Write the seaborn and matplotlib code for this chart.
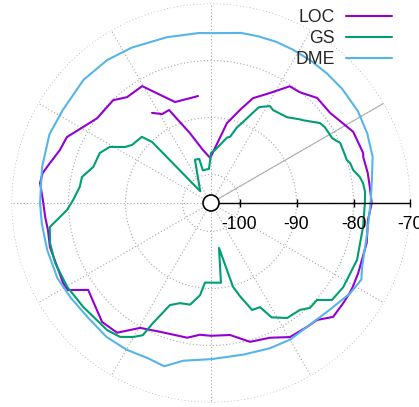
import numpy as np
import pandas as pd
import matplotlib
matplotlib.use("Agg")
import matplotlib.pyplot as plt
from matplotlib.lines import Line2D
from matplotlib.patches import Circle
import seaborn as sns

# Received signal strength (dBm) versus bearing (degrees, CCW from east)
loc_deg = [96.9, 109.6, 120.5, 128.4, 133.6, 143.3, 149.3, 155.4, 160.7, 166.0,
           169.9, 173.3, 179.0, 184.8, 189.4, 195.3, 208.4, 211.3, 215.3, 227.5,
           234.1, 240.4, 248.4, 260.0, 265.2, 270.0, 278.2, 285.7, 293.6, 300.5,
           307.7, 312.2, 317.0, 322.9, 327.1, 329.4, 334.5, 339.3, 345.6, 353.8,
           360.0, 365.7, 370.8, 376.8, 378.2, 386.6, 397.1, 404.7, 411.3, 416.0,
           421.8, 428.2, 432.7, 438.7, 451.0, 458.6, 467.0, 474.3, 478.8, 483.2]
loc_dbm = [-86.1, -86.2, -81.2, -81.3, -80.1, -80.1, -78.9, -77.2, -76.9, -75.9,
           -75.0, -74.8, -75.5, -75.8, -76.0, -75.7, -75.5, -75.6, -78.6, -76.7,
           -76.9, -79.8, -80.7, -81.0, -81.8, -81.7, -81.6, -79.7, -79.2, -77.7,
           -77.5, -77.3, -75.7, -75.9, -76.0, -76.1, -76.4, -76.7, -76.8, -77.3,
           -76.8, -77.0, -77.0, -77.1, -76.9, -77.1, -78.8, -78.8, -80.1, -80.3,
           -83.1, -85.2, -87.9, -90.7, -97.1, -95.6, -92.1, -87.1, -87.2, -86.1]

gs_deg = [0.0, 4.1, 7.5, 9.9, 13.1, 16.0, 17.5, 24.9, 28.2, 33.7,
          36.3, 42.0, 43.3, 48.5, 56.3, 58.7, 63.0, 63.7, 68.4, 71.1,
          73.9, 76.3, 85.7, 90.0, 93.4, 104.0, 105.0, 110.4, 132.5, 134.0,
          136.3, 143.7, 146.9, 151.0, 155.8, 163.0, 168.6, 173.0, 178.8, 182.8,
          186.3, 188.5, 194.0, 201.0, 210.3, 219.1, 230.7, 235.8, 239.8, 242.7,
          244.2, 248.1, 252.8, 258.4, 263.2, 265.7, 277.1, 280.1, 284.7, 287.1,
          291.0, 295.2, 297.9, 303.5, 309.8, 313.3, 317.5, 321.3, 327.5, 338.7,
          351.0, 360.0]
gs_dbm = [-78.0, -77.9, -78.1, -78.5, -79.4, -79.6, -80.0, -80.0, -80.9, -81.0,
          -81.3, -83.3, -83.6, -84.9, -85.4, -85.1, -86.1, -86.4, -89.7, -91.0,
          -92.9, -93.2, -95.7, -96.2, -99.0, -99.1, -97.0, -96.9, -102.2, -90.1,
          -88.2, -87.8, -87.0, -84.7, -83.6, -83.4, -81.9, -81.8, -80.8, -79.7,
          -77.8, -76.4, -75.9, -75.7, -75.8, -76.1, -76.2, -76.6, -77.8, -78.9,
          -81.6, -85.7, -86.6, -86.8, -88.7, -91.0, -90.9, -97.0, -89.8, -88.0,
          -84.9, -84.8, -82.3, -80.8, -80.6, -79.7, -79.8, -77.8, -77.5, -77.5,
          -78.0, -78.0]

dme_deg = [0, 8, 16, 24, 32, 41, 48, 55, 62, 68,
           74, 80, 90, 94, 105, 117, 126, 136, 148, 157,
           168, 180, 187, 196, 206, 214, 223, 232, 240, 248,
           254, 260, 270, 282, 292, 300, 306, 314, 319, 327,
           333, 337, 349, 360]
dme_dbm = [-77.0, -76.5, -75.5, -75.0, -74.6, -74.5, -74.5, -74.5, -74.5, -74.5,
           -74.6, -74.7, -75.2, -75.1, -74.9, -74.4, -74.0, -73.9, -74.3, -74.2,
           -74.7, -75.0, -75.1, -75.1, -75.0, -75.3, -75.5, -75.2, -75.3, -75.6,
           -75.2, -76.9, -77.6, -77.8, -77.5, -77.3, -77.5, -77.3, -76.9, -75.9,
           -75.4, -76.2, -77.1, -77.0]

series = ["LOC", "GS", "DME"]
colors = {"LOC": "#9400d3", "GS": "#009e73", "DME": "#56b4e9"}
r_ticks = [-100, -90, -80, -70]
r_min, r_max = -105, -70

frames = []
for name, deg, dbm in [("LOC", loc_deg, loc_dbm), ("GS", gs_deg, gs_dbm),
                       ("DME", dme_deg, dme_dbm)]:
    frames.append(pd.DataFrame({
        "theta": np.deg2rad(np.asarray(deg, dtype=float)),
        "r": dbm,
        "series": name,
        "segment": name,
    }))
df = pd.concat(frames, ignore_index=True)

sns.set_theme(style="white")
plt.rcParams["font.family"] = ["Liberation Sans", "DejaVu Sans"]

fig = plt.figure(figsize=(4.19, 4.07), dpi=100)
ax = fig.add_axes([0.02745, 0.0111, 0.9523, 0.9803], projection="polar")
ax.set_rlim(r_min, r_max)

# polar grid: dotted circles and 30-degree spokes
ax.set_rticks(r_ticks)
ax.set_yticklabels([])
ax.set_xticks(np.deg2rad(np.arange(0, 360, 30)))
ax.set_xticklabels([])
ax.grid(True, color="#a8a8a8", linestyle=(0, (1, 2)), linewidth=0.8)
ax.spines["polar"].set_visible(False)

sns.lineplot(data=df, x="theta", y="r", hue="series", units="segment",
             estimator=None, sort=False, palette=colors, linewidth=1.5,
             legend=False, ax=ax)
ax.set_xlabel("")
ax.set_ylabel("")

# reference spoke and radial axis with ticks
ax.plot([np.pi / 6, np.pi / 6], [r_min, r_max], color="#b0b0b0", lw=0.8, zorder=1)
ax.plot([0, 0], [r_min, r_max], color="black", lw=1.0, clip_on=False, zorder=3)
ax.plot(np.zeros(len(r_ticks)), r_ticks, linestyle="none", marker="|",
        markersize=6, markeredgewidth=1.0, color="black", clip_on=False, zorder=3)
for r in r_ticks:
    ax.annotate(f"{r}", xy=(0, r), xytext=(0, -9.5), textcoords="offset points",
                ha="center", va="top", fontsize=12.7, color="black")

# origin marker
ax.add_artist(Circle((0.5, 0.5), 8 / 399, transform=ax.transAxes,
                     facecolor="white", edgecolor="black", lw=1.2,
                     zorder=6, clip_on=False))

handles = [Line2D([], [], color=colors[s], lw=1.5) for s in series]
ax.legend(handles, series, loc="upper right",
          bbox_to_anchor=(392 / 419, 1 - 9 / 407), bbox_transform=fig.transFigure,
          frameon=False, markerfirst=False, handlelength=2.6, handletextpad=0.65,
          labelspacing=0.22, borderpad=0, borderaxespad=0, fontsize=12.7)

fig.savefig("out.png", dpi=100)
